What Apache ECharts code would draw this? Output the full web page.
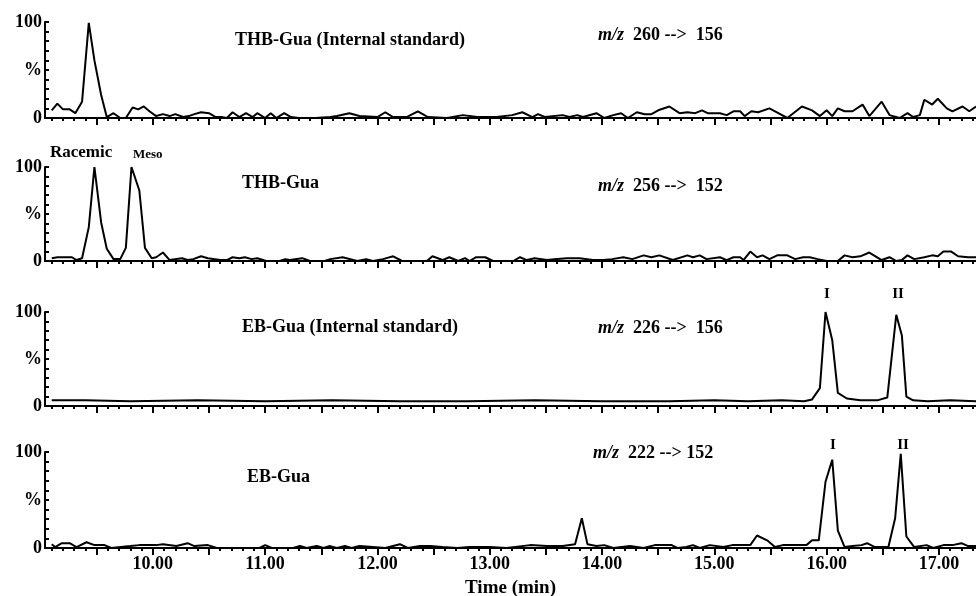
<!DOCTYPE html>
<html>
<head>
<meta charset="utf-8">
<script src="https://cdn.jsdelivr.net/npm/echarts@6/dist/echarts.min.js"></script>
<style>
  html, body { margin: 0; padding: 0; background: #fff; }
  #chart { width: 976px; height: 596px; }
</style>
</head>
<body>
<div id="chart"></div>
<script>
// time (min), relative abundance (%)
const thbInternal = [
  [9.10, 8], [9.15, 15], [9.20, 9], [9.26, 9], [9.31, 5], [9.37, 17], [9.43, 99], [9.48, 60],
  [9.54, 24], [9.59, 1], [9.65, 5], [9.71, 0], [9.76, 0], [9.82, 11], [9.87, 9], [9.92, 12],
  [9.97, 7], [10.03, 2], [10.09, 4], [10.15, 2], [10.20, 4], [10.27, 1], [10.32, 2], [10.37, 4],
  [10.43, 6], [10.50, 5], [10.56, 1], [10.61, 1], [10.66, 0], [10.71, 6], [10.77, 1], [10.83, 5],
  [10.89, 1], [10.93, 5], [11.00, 0], [11.05, 5], [11.10, 0], [11.17, 5], [11.23, 1], [11.30, 0],
  [11.45, 0], [11.58, 1], [11.64, 2], [11.75, 5], [11.84, 2], [12.00, 1], [12.07, 6], [12.14, 1],
  [12.26, 1], [12.36, 7], [12.45, 1], [12.62, 0], [12.76, 3], [12.89, 1], [13.06, 1], [13.20, 3],
  [13.29, 6], [13.38, 1], [13.43, 4], [13.49, 1], [13.65, 3], [13.71, 1], [13.78, 3], [13.83, 1],
  [13.95, 5], [14.02, 0], [14.10, 3], [14.17, 5], [14.23, 0], [14.31, 6], [14.38, 4], [14.44, 4],
  [14.50, 8], [14.60, 12], [14.69, 5], [14.76, 6], [14.83, 5], [14.89, 8], [14.94, 5], [15.05, 5],
  [15.11, 3], [15.17, 7], [15.23, 7], [15.27, 2], [15.33, 7], [15.39, 6], [15.49, 10], [15.57, 5],
  [15.65, 0], [15.78, 12], [15.87, 8], [15.94, 2], [16.00, 8], [16.05, 2], [16.10, 10], [16.16, 7],
  [16.23, 7], [16.32, 14], [16.38, 2], [16.49, 17], [16.56, 3], [16.65, 0], [16.72, 5], [16.77, 1],
  [16.83, 3], [16.87, 19], [16.94, 14], [16.99, 20], [17.07, 10], [17.12, 7], [17.21, 12], [17.27, 7],
  [17.33, 12]
];

const thbGua = [
  [9.10, 3], [9.15, 4], [9.28, 4], [9.32, 1], [9.37, 3], [9.43, 36], [9.48, 100], [9.54, 41],
  [9.59, 13], [9.65, 2], [9.71, 2], [9.76, 14], [9.81, 100], [9.88, 75], [9.93, 14], [9.99, 3],
  [10.03, 4], [10.09, 9], [10.15, 1], [10.26, 3], [10.31, 1], [10.36, 2], [10.43, 5], [10.49, 3],
  [10.60, 1], [10.66, 1], [10.71, 4], [10.77, 3], [10.82, 4], [10.88, 2], [10.93, 3], [11.01, 0],
  [11.13, 0], [11.18, 2], [11.22, 1], [11.33, 3], [11.40, 0], [11.53, 0], [11.58, 2], [11.69, 4],
  [11.82, 0], [11.90, 2], [11.96, 0], [12.05, 2], [12.14, 5], [12.22, 0], [12.44, 0], [12.49, 5],
  [12.58, 1], [12.64, 4], [12.72, 0], [12.78, 3], [12.82, 0], [12.88, 4], [12.96, 4], [13.03, 0],
  [13.21, 0], [13.27, 4], [13.33, 1], [13.40, 3], [13.51, 1], [13.60, 2], [13.69, 3], [13.80, 3],
  [13.92, 1], [14.01, 1], [14.09, 2], [14.19, 4], [14.27, 2], [14.37, 6], [14.44, 4], [14.51, 6],
  [14.63, 1], [14.76, 6], [14.81, 4], [14.87, 6], [14.93, 2], [15.05, 4], [15.11, 1], [15.17, 4],
  [15.23, 4], [15.26, 1], [15.32, 10], [15.38, 4], [15.43, 6], [15.49, 2], [15.56, 6], [15.65, 6],
  [15.72, 2], [15.79, 4], [15.85, 4], [15.92, 2], [16.00, 0], [16.10, 0], [16.16, 6], [16.23, 4],
  [16.30, 5], [16.38, 9], [16.49, 1], [16.56, 4], [16.62, 0], [16.67, 1], [16.72, 6], [16.78, 2],
  [16.87, 4], [16.94, 6], [16.99, 5], [17.04, 10], [17.11, 10], [17.17, 5], [17.26, 4], [17.33, 4]
];

const ebInternal = [
  [9.10, 6], [9.40, 6], [9.80, 5], [10.40, 6], [11.00, 5], [11.60, 6], [12.20, 5], [12.80, 5],
  [13.40, 6], [14.00, 5], [14.60, 5], [15.00, 6], [15.30, 5], [15.60, 6], [15.80, 5], [15.87, 7],
  [15.94, 19], [15.99, 100], [16.05, 70], [16.10, 14], [16.18, 8], [16.30, 6], [16.45, 6], [16.54, 9],
  [16.62, 97], [16.67, 75], [16.71, 10], [16.77, 6], [16.90, 5], [17.10, 6], [17.33, 5]
];

const ebGua = [
  [9.10, 4], [9.13, 1], [9.19, 5], [9.26, 5], [9.32, 1], [9.41, 6], [9.48, 3], [9.57, 3],
  [9.63, 0], [9.80, 2], [9.88, 3], [10.03, 3], [10.09, 4], [10.21, 2], [10.31, 5], [10.37, 2],
  [10.49, 3], [10.57, 0], [10.95, 0], [11.00, 3], [11.06, 0], [11.25, 0], [11.31, 2], [11.37, 0],
  [11.46, 2], [11.52, 0], [11.57, 2], [11.64, 0], [11.71, 2], [11.77, 0], [11.84, 2], [11.96, 1],
  [12.07, 0], [12.20, 4], [12.27, 0], [12.38, 2], [12.47, 2], [12.58, 1], [12.71, 0], [12.82, 1],
  [13.00, 1], [13.15, 0], [13.36, 3], [13.51, 2], [13.65, 2], [13.76, 4], [13.82, 31], [13.87, 4],
  [13.95, 2], [14.02, 3], [14.10, 0], [14.25, 2], [14.37, 0], [14.47, 3], [14.51, 3], [14.62, 3],
  [14.67, 0], [14.75, 1], [14.81, 3], [14.87, 0], [14.96, 3], [15.08, 1], [15.16, 3], [15.32, 3],
  [15.38, 13], [15.47, 8], [15.54, 1], [15.61, 3], [15.82, 3], [15.87, 8], [15.93, 8], [15.99, 69],
  [16.05, 92], [16.10, 18], [16.16, 1], [16.23, 2], [16.31, 3], [16.36, 5], [16.43, 1], [16.55, 1],
  [16.61, 31], [16.66, 98], [16.71, 12], [16.78, 1], [16.89, 3], [16.95, 0], [17.04, 3], [17.12, 3],
  [17.20, 5], [17.26, 2], [17.33, 2]
];

const traces = [thbInternal, thbGua, ebInternal, ebGua];

// axis ticks
const majorTicks = [9.5, 10, 10.5, 11, 11.5, 12, 12.5, 13, 13.5, 14, 14.5, 15, 15.5, 16, 16.5, 17];
const timeLabels = [10, 11, 12, 13, 14, 15, 16, 17];
const minorTicks = [];
for (let i = 91; i <= 173; i++) {
  if (i % 5 !== 0) minorTicks.push(i / 10);
}
const xMin = 9.04;
const xMax = 17.33;

// panel layout (px)
const panelTops = [22, 167, 312, 452];
const panelHeights = [96, 94, 94, 96];

const SERIF = '"Liberation Serif", "Times New Roman", serif';
const f = (size, style) => (style || '') + ' bold ' + size + 'px ' + SERIF;

const chart = echarts.init(document.getElementById('chart'));

const grids = [];
const xAxes = [];
const yAxes = [];
const series = [];

panelTops.forEach((top, i) => {
  const last = i === panelTops.length - 1;
  grids.push({ left: 45, right: 0, top: top, height: panelHeights[i], outerBoundsMode: 'none', containLabel: false });
  // major ticks + labels
  xAxes.push({
    type: 'value', gridIndex: i, position: 'bottom', min: xMin, max: xMax,
    axisLine: { lineStyle: { color: '#000', width: 2 } },
    axisTick: { customValues: majorTicks, length: 7, lineStyle: { color: '#000', width: 2 } },
    axisLabel: {
      show: last, customValues: timeLabels, margin: 7,
      formatter: (v) => v.toFixed(2),
      color: '#000', fontFamily: SERIF, fontWeight: 'bold', fontSize: 18
    },
    splitLine: { show: false },
    name: last ? 'Time (min)' : '',
    nameLocation: 'middle', nameGap: 31,
    nameTextStyle: { color: '#000', fontFamily: SERIF, fontWeight: 'bold', fontSize: 19 }
  });
  // minor ticks
  xAxes.push({
    type: 'value', gridIndex: i, position: 'bottom', min: xMin, max: xMax,
    axisLine: { show: false },
    axisTick: { customValues: minorTicks, length: 3, lineStyle: { color: '#000', width: 2 } },
    axisLabel: { show: false },
    splitLine: { show: false }
  });
  yAxes.push({
    type: 'value', gridIndex: i, min: 0, max: 100, interval: 10,
    axisLine: { show: true, lineStyle: { color: '#000', width: 2 } },
    axisTick: { show: true, inside: true, length: 4, lineStyle: { color: '#000', width: 2 } },
    axisLabel: {
      margin: 3, color: '#000', fontFamily: SERIF, fontWeight: 'bold', fontSize: 18,
      formatter: (v) => (v === 100 ? '100' : v === 50 ? '%' : v === 0 ? '0' : '')
    },
    splitLine: { show: false }
  });
  series.push({
    type: 'line', xAxisIndex: i * 2, yAxisIndex: i,
    data: traces[i], showSymbol: false, symbol: 'none',
    lineStyle: { color: '#000', width: 2 }, z: 3
  });
});

const txt = (text, x, y, size, extra) => ({
  type: 'text', x: x, y: y, z: 10,
  style: Object.assign({ text: text, font: f(size), fill: '#000', verticalAlign: 'middle', align: 'left' }, extra || {})
});

const mz = (ion, x, y) => ({
  type: 'text', x: x, y: y, z: 10,
  style: {
    text: '{i|m/z}  ' + ion, font: f(18), fill: '#000', verticalAlign: 'middle',
    rich: { i: { font: f(18, 'italic'), fill: '#000' } }
  }
});

const graphic = [
  txt('THB-Gua (Internal standard)', 235, 40, 18),
  mz('260 -->  156', 598, 35),
  txt('Racemic', 50, 153, 17),
  txt('Meso', 133, 155, 13),
  txt('THB-Gua', 242, 183, 18),
  mz('256 -->  152', 598, 186),
  txt('EB-Gua (Internal standard)', 242, 327, 18),
  mz('226 -->  156', 598, 328),
  txt('I', 827, 294, 15, { align: 'center' }),
  txt('II', 898, 294, 15, { align: 'center' }),
  txt('EB-Gua', 247, 477, 18),
  mz('222 --> 152', 593, 453),
  txt('I', 833, 445, 15, { align: 'center' }),
  txt('II', 903, 445, 15, { align: 'center' })
];

chart.setOption({
  animation: false,
  backgroundColor: '#fff',
  grid: grids,
  xAxis: xAxes,
  yAxis: yAxes,
  series: series,
  graphic: graphic
});
</script>
</body>
</html>
